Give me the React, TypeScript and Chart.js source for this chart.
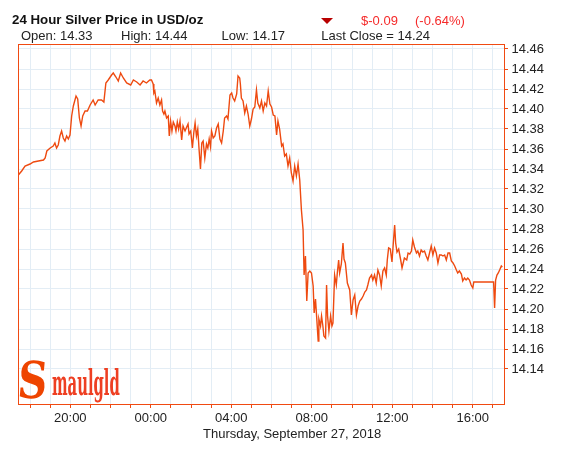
import React, { useEffect, useRef } from 'react';
import { Chart, registerables } from 'chart.js';

Chart.register(...registerables);

const W = 569;
const H = 457;
const FONT = '"Liberation Sans", Arial, Helvetica, sans-serif';
const BORDER = '#f04a12';
const LINE = '#ee4a10';
const GRID = '#e3edf5';
const TEXT = '#222222';
const RED = '#f52a2a';

const titleText = '24 Hour Silver Price in USD/oz';
const changeValue = '$-0.09';
const changePercent = '(-0.64%)';
const statTexts = ['Open: 14.33', 'High: 14.44', 'Low: 14.17', 'Last Close = 14.24'];
const dateText = 'Thursday, September 27, 2018';
const logoInitial = 'S';
const logoRest = 'maulgld';

// y axis
const yMin = 14.105;
const yMax = 14.465;
const yTickValues = [14.14, 14.16, 14.18, 14.2, 14.22, 14.24, 14.26, 14.28, 14.3, 14.32, 14.34, 14.36, 14.38, 14.4, 14.42, 14.44, 14.46];

// x axis: minutes relative to 00:00 on Sep 27 (negative = Sep 26)
const xMin = -396;
const xMax = 1053;
const xTickMinutes = [-360, -300, -240, -180, -120, -60, 0, 60, 120, 180, 240, 300, 360, 420, 480, 540, 600, 660, 720, 780, 840, 900, 960, 1020];
const xLabelMinutes = [-240, 0, 240, 480, 720, 960];
const xLabelTexts = ['20:00', '00:00', '04:00', '08:00', '12:00', '16:00'];

// price series
const times = [
  -395, -385, -375, -360, -350, -335, -320, -315, -310, -300,
  -291, -286, -281, -276, -271, -266, -261, -256, -251, -246,
  -241, -236, -231, -223, -218, -213, -208, -203, -196, -189,
  -181, -172, -166, -157, -147, -140, -134, -127, -117, -112,
  -104, -97, -90, -82, -72, -60, -52, -42, -32, -23,
  -13, -3,
  2, 7, 9, 12, 17, 22, 27, 32, 35, 39,
  42, 47, 52, 55, 59, 63, 67, 72, 75, 79,
  83, 87, 92, 96, 102, 107, 111, 114, 119, 124,
  128, 132, 136, 140, 144, 148, 152, 156, 161, 166,
  170, 174, 178, 181, 186, 191, 196, 201, 206, 211,
  216, 220, 226, 230, 236, 241, 245, 250, 256, 260,
  265, 267, 270, 275, 280, 285, 290, 295, 300, 305,
  310, 315, 319, 325, 330, 335, 340, 345, 350, 355,
  360, 365, 370, 375, 379, 384, 390, 394, 399, 404,
  409, 414, 419, 424, 429, 434, 439, 444,
  449, 454, 457, 461, 465, 469, 474, 479, 484, 487,
  491, 495, 499, 501, 506, 509, 513, 516, 521, 524,
  527, 531, 536, 540, 543, 548, 553, 556, 560, 563,
  568, 573, 576, 580, 586, 593, 598, 603, 608, 613,
  618, 623, 628, 633, 638, 643, 647, 652, 658, 662,
  667, 672, 677, 682, 687, 692, 697, 702, 705, 709,
  714, 719, 723, 727, 730, 734, 739, 745, 749, 756,
  763, 767, 772, 777, 781, 786, 792, 796, 801, 806,
  811, 816, 821, 826, 831, 836, 841, 846, 851, 856,
  861, 866, 871, 876, 881, 886, 891, 896, 901, 906,
  911, 915, 920, 926, 930, 935, 940, 945, 950, 955,
  960, 963, 1022, 1025, 1028, 1032, 1036, 1040, 1045, 1048,
];

const prices = [
  14.334, 14.338, 14.343, 14.345, 14.347, 14.348, 14.349, 14.351, 14.358, 14.361,
  14.363, 14.366, 14.361, 14.364, 14.373, 14.378, 14.371, 14.368, 14.373, 14.370,
  14.374, 14.393, 14.403, 14.413, 14.410, 14.391, 14.383, 14.393, 14.398, 14.398,
  14.404, 14.409, 14.404, 14.409, 14.409, 14.407, 14.426, 14.429, 14.434, 14.436,
  14.432, 14.428, 14.436, 14.431, 14.426, 14.424, 14.429, 14.427, 14.424, 14.428,
  14.426, 14.429,
  14.429, 14.425, 14.416, 14.418, 14.406, 14.411, 14.404, 14.409, 14.398, 14.395,
  14.398, 14.391, 14.393, 14.373, 14.388, 14.378, 14.387, 14.383, 14.378, 14.387,
  14.380, 14.388, 14.369, 14.383, 14.378, 14.382, 14.385, 14.375, 14.378, 14.361,
  14.376, 14.386, 14.373, 14.380, 14.359, 14.340, 14.366, 14.368, 14.351, 14.365,
  14.361, 14.370, 14.362, 14.378, 14.371, 14.373, 14.381, 14.385, 14.370, 14.366,
  14.378, 14.391, 14.393, 14.390, 14.414, 14.416, 14.411, 14.408, 14.415, 14.433,
  14.431, 14.425, 14.411, 14.408, 14.396, 14.403, 14.395, 14.383, 14.390, 14.400,
  14.402, 14.419, 14.406, 14.401, 14.408, 14.398, 14.406, 14.403, 14.418, 14.405,
  14.402, 14.394, 14.393, 14.374, 14.388, 14.380, 14.363, 14.365, 14.353, 14.355,
  14.343, 14.351, 14.336, 14.328, 14.343, 14.333, 14.345, 14.329,
  14.299, 14.279, 14.234, 14.253, 14.208, 14.236, 14.238, 14.236, 14.223, 14.196,
  14.210, 14.189, 14.168, 14.190, 14.183, 14.193, 14.183, 14.173, 14.171, 14.224,
  14.193, 14.178, 14.193, 14.183, 14.186, 14.234, 14.224, 14.236, 14.249, 14.236,
  14.245, 14.266, 14.250, 14.246, 14.226, 14.219, 14.194, 14.209, 14.214, 14.194,
  14.203, 14.208, 14.210, 14.213, 14.217, 14.219, 14.224, 14.231, 14.234, 14.229,
  14.234, 14.226, 14.239, 14.234, 14.223, 14.238, 14.241, 14.234, 14.249, 14.261,
  14.260, 14.247, 14.266, 14.284, 14.266, 14.257, 14.260, 14.249, 14.241, 14.251,
  14.249, 14.256, 14.255, 14.258, 14.269, 14.262, 14.256, 14.258, 14.253, 14.259,
  14.257, 14.258, 14.253, 14.249, 14.256, 14.263, 14.254, 14.261, 14.256, 14.246,
  14.254, 14.254, 14.253, 14.254, 14.249, 14.256, 14.256, 14.248, 14.246, 14.243,
  14.239, 14.236, 14.238, 14.235, 14.228, 14.231, 14.229, 14.231, 14.229, 14.224,
  14.221, 14.227, 14.227, 14.201, 14.229, 14.234, 14.236, 14.239, 14.243, 14.242,
];

const boxPlugin = {
  id: 'plotBox',
  afterDraw(chart: any) {
    const { ctx, chartArea } = chart;
    const { left, top, right, bottom } = chartArea;
    ctx.save();
    ctx.strokeStyle = BORDER;
    ctx.lineWidth = 1;
    ctx.strokeRect(left + 0.5, top + 0.5, right - left, bottom - top);
    ctx.restore();
  },
};

function Txt(props: { left: number; top: number; size: number; color: string; bold?: boolean; children: React.ReactNode }) {
  return (
    <div
      style={{
        position: 'absolute',
        left: props.left,
        top: props.top,
        fontSize: props.size,
        lineHeight: `${props.size}px`,
        color: props.color,
        fontWeight: props.bold ? 'bold' : 'normal',
        fontFamily: FONT,
        whiteSpace: 'nowrap',
      }}
    >
      {props.children}
    </div>
  );
}

export default function App() {
  const canvasRef = useRef<HTMLCanvasElement | null>(null);

  useEffect(() => {
    const canvas = canvasRef.current;
    if (!canvas) return;
    const points = times.map((t, i) => ({ x: t, y: prices[i] }));
    const chart = new Chart(canvas, {
      type: 'line',
      data: {
        datasets: [
          {
            data: points,
            borderColor: LINE,
            borderWidth: 1.4,
            pointRadius: 0,
            tension: 0,
            fill: false,
          },
        ],
      },
      options: {
        animation: false,
        responsive: false,
        events: [],
        layout: { padding: { left: 18, top: 44, right: 0, bottom: 0 } },
        plugins: { legend: { display: false }, tooltip: { enabled: false }, title: { display: false } },
        scales: {
          x: {
            type: 'linear',
            min: xMin,
            max: xMax,
            afterBuildTicks: (scale: any) => {
              scale.ticks = xTickMinutes.map((v) => ({ value: v }));
            },
            afterFit: (scale: any) => {
              scale.height = H - 404;
            },
            grid: { color: GRID, lineWidth: 1, drawTicks: true, tickLength: 4, tickColor: BORDER },
            border: { display: false },
            ticks: {
              autoSkip: false,
              maxRotation: 0,
              minRotation: 0,
              padding: 3,
              color: TEXT,
              font: { family: FONT, size: 13 },
              callback: (v: any) => {
                const i = xLabelMinutes.indexOf(Number(v));
                return i >= 0 ? xLabelTexts[i] : '';
              },
            },
          },
          y: {
            type: 'linear',
            position: 'right',
            min: yMin,
            max: yMax,
            afterBuildTicks: (scale: any) => {
              scale.ticks = yTickValues.map((v) => ({ value: v }));
            },
            afterFit: (scale: any) => {
              scale.width = 65;
            },
            grid: { color: GRID, lineWidth: 1, drawTicks: true, tickLength: 4, tickColor: BORDER },
            border: { display: false },
            ticks: {
              autoSkip: false,
              padding: 3.5,
              color: TEXT,
              font: { family: FONT, size: 13 },
              callback: (v: any) => Number(v).toFixed(2),
            },
          },
        },
      },
      plugins: [boxPlugin],
    });
    return () => chart.destroy();
  }, []);

  return (
    <div style={{ position: 'absolute', left: 0, top: 0, width: W, height: H, background: '#fff', overflow: 'hidden' }}>
      <canvas
        ref={canvasRef}
        width={W}
        height={H}
        style={{ position: 'absolute', left: 0, top: 0, width: W, height: H, display: 'block' }}
      />
      <Txt left={12} top={13} size={13.3} color="#111" bold>
        {titleText}
      </Txt>
      <div
        style={{
          position: 'absolute',
          left: 321,
          top: 17.5,
          width: 0,
          height: 0,
          borderLeft: '6px solid transparent',
          borderRight: '6px solid transparent',
          borderTop: '6px solid #b80000',
        }}
      />
      <Txt left={361} top={14} size={13} color={RED}>
        {changeValue}
      </Txt>
      <Txt left={415} top={14} size={13} color={RED}>
        {changePercent}
      </Txt>
      <Txt left={21} top={29} size={13} color={TEXT}>
        {statTexts[0]}
      </Txt>
      <Txt left={121} top={29} size={13} color={TEXT}>
        {statTexts[1]}
      </Txt>
      <Txt left={221.5} top={29} size={13} color={TEXT}>
        {statTexts[2]}
      </Txt>
      <Txt left={321.3} top={29} size={13} color={TEXT}>
        {statTexts[3]}
      </Txt>
      <Txt left={203} top={427} size={13} color={TEXT}>
        {dateText}
      </Txt>
      <div
        style={{
          position: 'absolute',
          left: 20,
          top: 355,
          fontFamily: '"DejaVu Serif", "Liberation Serif", serif',
          fontWeight: 'bold',
          fontSize: 51,
          lineHeight: '51px',
          color: '#ee4400',
          transform: 'scaleX(0.8) skewX(-6deg)',
          transformOrigin: 'left top',
          whiteSpace: 'nowrap',
        }}
      >
        {logoInitial}
      </div>
      <div
        style={{
          position: 'absolute',
          left: 52,
          top: 364,
          fontFamily: '"DejaVu Serif", "Liberation Serif", serif',
          fontWeight: 'bold',
          fontSize: 36,
          lineHeight: '36px',
          color: '#ee3f22',
          transform: 'scaleX(0.41)',
          transformOrigin: 'left top',
          whiteSpace: 'nowrap',
        }}
      >
        {logoRest}
      </div>
    </div>
  );
}
